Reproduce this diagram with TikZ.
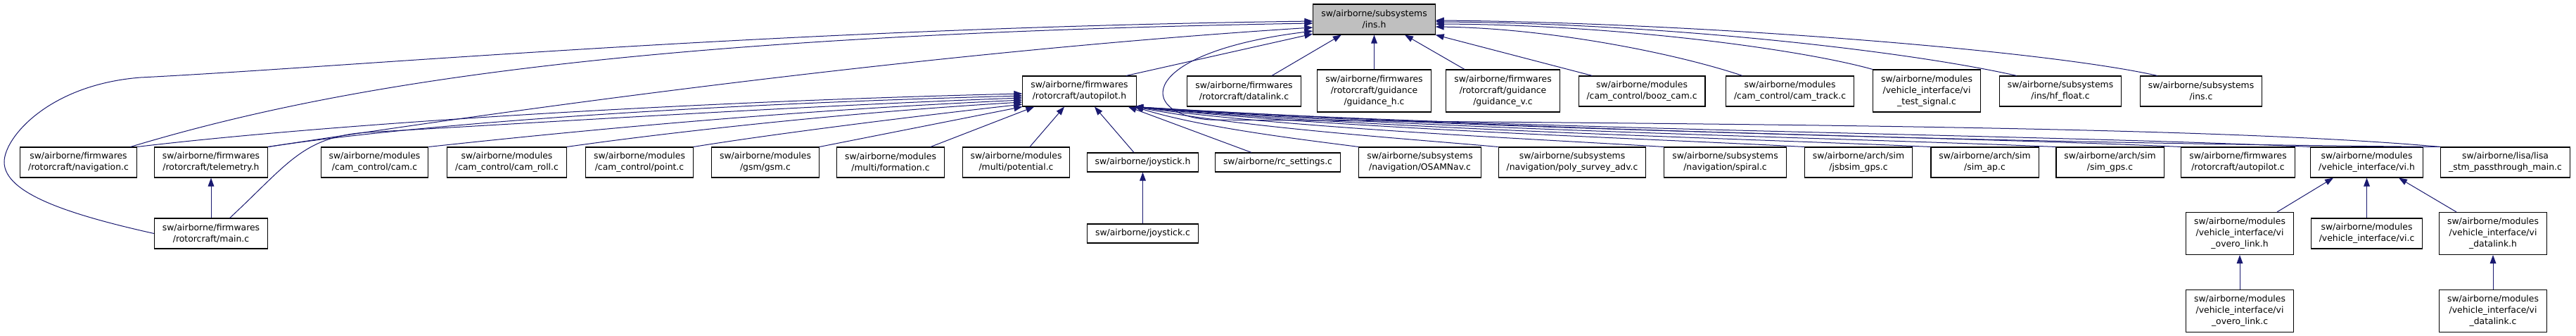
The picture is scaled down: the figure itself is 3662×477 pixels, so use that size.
\documentclass[tikz,border=0pt]{standalone}
\usepackage{fontspec}
\setmainfont{DejaVu Sans}
\usetikzlibrary{arrows.meta}
\definecolor{incl}{HTML}{191970}
\definecolor{focus}{HTML}{BFBFBF}

\begin{document}
\begin{tikzpicture}[x=0.75pt,y=-0.75pt,>={Triangle[length=9pt,width=6.5pt]},
 file/.style={draw=black,fill=white,line width=0.8pt,align=center,inner xsep=8.6pt,inner ysep=0pt,font=\fontsize{9.3pt}{12pt}\selectfont},
 oneline/.style={minimum height=20.25pt},
 twoline/.style={minimum height=32.25pt},
 threeline/.style={minimum height=45pt},
 dep/.style={->,draw=incl,line width=0.75pt}]
\useasboundingbox (0,0) rectangle (3662,477);
% the header everything points at
\node[file,twoline,fill=focus] (insh) at (1953.5,27.5) {sw/airborne/subsystems\\/ins.h};
% first row
\node[file,twoline] (autoh) at (1534.5,129.5) {sw/airborne/firmwares\\/rotorcraft/autopilot.h};
\node[file,twoline] (dlink) at (1768.5,129.5) {sw/airborne/firmwares\\/rotorcraft/datalink.c};
\node[file,threeline] (guidh) at (1953.5,129) {sw/airborne/firmwares\\/rotorcraft/guidance\\/guidance\_h.c};
\node[file,threeline] (guidv) at (2136.5,129) {sw/airborne/firmwares\\/rotorcraft/guidance\\/guidance\_v.c};
\node[file,twoline] (boozcam) at (2334,129.5) {sw/airborne/modules\\/cam\_control/booz\_cam.c};
\node[file,twoline] (camtrack) at (2544.5,129.5) {sw/airborne/modules\\/cam\_control/cam\_track.c};
\node[file,threeline] (vitest) at (2739,129) {sw/airborne/modules\\/vehicle\_interface/vi\\\_test\_signal.c};
\node[file,twoline] (hffloat) at (2929,129.5) {sw/airborne/subsystems\\/ins/hf\_float.c};
\node[file,twoline] (insc) at (3129,129.5) {sw/airborne/subsystems\\/ins.c};
% second row
\node[file,twoline] (nav) at (111.5,230.5) {sw/airborne/firmwares\\/rotorcraft/navigation.c};
\node[file,twoline] (telem) at (300,230.5) {sw/airborne/firmwares\\/rotorcraft/telemetry.h};
\node[file,twoline] (cam) at (532.5,230.5) {sw/airborne/modules\\/cam\_control/cam.c};
\node[file,twoline] (camroll) at (720.5,230.5) {sw/airborne/modules\\/cam\_control/cam\_roll.c};
\node[file,twoline] (point) at (909,230.5) {sw/airborne/modules\\/cam\_control/point.c};
\node[file,twoline] (gsm) at (1088,230.5) {sw/airborne/modules\\/gsm/gsm.c};
\node[file,twoline] (formation) at (1266,230.5) {sw/airborne/modules\\/multi/formation.c};
\node[file,twoline] (potential) at (1444.5,230.5) {sw/airborne/modules\\/multi/potential.c};
\node[file,oneline] (joyh) at (1624.5,230.5) {sw/airborne/joystick.h};
\node[file,oneline] (rcset) at (1816.5,230.5) {sw/airborne/rc\_settings.c};
\node[file,twoline] (osam) at (2018.5,230.5) {sw/airborne/subsystems\\/navigation/OSAMNav.c};
\node[file,twoline] (poly) at (2235,230.5) {sw/airborne/subsystems\\/navigation/poly\_survey\_adv.c};
\node[file,twoline] (spiral) at (2452.5,230.5) {sw/airborne/subsystems\\/navigation/spiral.c};
\node[file,twoline] (jsbsim) at (2642,230.5) {sw/airborne/arch/sim\\/jsbsim\_gps.c};
\node[file,twoline] (simap) at (2821.5,230.5) {sw/airborne/arch/sim\\/sim\_ap.c};
\node[file,twoline] (simgps) at (2999.5,230.5) {sw/airborne/arch/sim\\/sim\_gps.c};
\node[file,twoline] (autoc) at (3181.5,230.5) {sw/airborne/firmwares\\/rotorcraft/autopilot.c};
\node[file,twoline] (vih) at (3364.5,230.5) {sw/airborne/modules\\/vehicle\_interface/vi.h};
\node[file,twoline] (lisa) at (3561.5,230.5) {sw/airborne/lisa/lisa\\\_stm\_passthrough\_main.c};
% third and fourth rows
\node[file,twoline] (mainc) at (300,331.5) {sw/airborne/firmwares\\/rotorcraft/main.c};
\node[file,oneline] (joyc) at (1624.5,331.5) {sw/airborne/joystick.c};
\node[file,threeline] (overoh) at (3184,331.5) {sw/airborne/modules\\/vehicle\_interface/vi\\\_overo\_link.h};
\node[file,twoline] (vic) at (3364.5,331.5) {sw/airborne/modules\\/vehicle\_interface/vi.c};
\node[file,threeline] (vidlh) at (3544,331.5) {sw/airborne/modules\\/vehicle\_interface/vi\\\_datalink.h};
\node[file,threeline] (overoc) at (3184,441.5) {sw/airborne/modules\\/vehicle\_interface/vi\\\_overo\_link.c};
\node[file,threeline] (vidlc) at (3544,441.5) {sw/airborne/modules\\/vehicle\_interface/vi\\\_datalink.c};

% straight ones
\draw[dep] (guidh) -- (insh);
\draw[dep] (mainc) -- (telem);
\draw[dep] (joyc) -- (joyh);
\draw[dep] (vic) -- (vih);
\draw[dep] (overoc) -- (overoh);
\draw[dep] (vidlc) -- (vidlh);
\draw[dep] ([xshift=39.75pt]overoh.north) -- ([xshift=-35.6pt]vih.south);
\draw[dep] ([xshift=-39pt]vidlh.north) -- ([xshift=34.1pt]vih.south);

% into ins.h
\draw[dep] ([xshift=29.6pt]dlink.north) -- ([xshift=-35pt]insh.south);
\draw[dep] ([xshift=-40.9pt]guidv.north) -- ([xshift=32.6pt]insh.south);
\draw[dep] ([xshift=15pt]boozcam.north west) -- (insh.south east);
\draw[dep] ([xshift=18pt]camtrack.north west) .. controls (2380,75) and (2200,40) .. ([yshift=-7.9pt]insh.east);
\draw[dep] (vitest.north west) .. controls (2560,70) and (2300,35) .. ([yshift=-4.9pt]insh.east);
\draw[dep] ([xshift=18.75pt]hffloat.north west) .. controls (2700,70) and (2350,33) .. ([yshift=-2.6pt]insh.east);
\draw[dep] ([xshift=18.75pt]insc.north west) .. controls (2900,70) and (2400,32) .. ([yshift=-1.1pt]insh.east);
\draw[dep] ([xshift=-11pt]autoh.north east) -- ([yshift=-15.4pt]insh.west);
\draw[dep] ([xshift=-7pt]nav.north east) .. controls (480,120) and (900,50) .. ([yshift=-4.1pt]insh.west);
\draw[dep] (telem.north east) .. controls (700,160) and (1300,75) .. ([yshift=-8.6pt]insh.west);
\draw[dep] (mainc.west) .. controls (100,305) and (6,275) .. (6,230)
 .. controls (6,195) and (70,120) .. (200,110)
 .. controls (500,95) and (1100,40) .. ([yshift=-1.9pt]insh.west);
\draw[dep] (lisa.north west) .. controls (3150,180) and (2500,176) .. (1720,170)
 .. controls (1615,163) and (1615,75) .. ([yshift=-12.4pt]insh.west);

% into autopilot.h from the left
\draw[dep] (nav.north east) .. controls (450,178) and (950,145) .. ([yshift=-2.6pt]autoh.west);
\draw[dep] (telem.north east) .. controls (600,175) and (1000,148) .. ([yshift=-4.9pt]autoh.west);
\draw[dep] ([xshift=20pt]mainc.north) .. controls (410,232) and (430,195) .. (520,188)
 .. controls (800,172) and (1150,150) .. ([yshift=-7.1pt]autoh.west);
\draw[dep] (cam.north east) .. controls (800,188) and (1100,158) .. ([yshift=-9.4pt]autoh.west);
\draw[dep] (camroll.north east) .. controls (950,188) and (1200,160) .. ([yshift=-11.6pt]autoh.west);
\draw[dep] (point.north east) .. controls (1100,190) and (1300,165) .. ([yshift=-13.9pt]autoh.west);
\draw[dep] (gsm.north east) -- (autoh.south west);
\draw[dep] ([xshift=-15pt]formation.north east) -- ([xshift=12.75pt]autoh.south west);
\draw[dep] ([xshift=14.6pt]potential.north) -- ([xshift=-16.1pt]autoh.south);
\draw[dep] ([xshift=-9.4pt]joyh.north) -- ([xshift=16.1pt]autoh.south);
\draw[dep] ([xshift=-28.1pt]rcset.north) -- ([xshift=-9pt]autoh.south east);

% into autopilot.h from the right
\draw[dep] (osam.north west) .. controls (1850,198) and (1707,181) .. ([xshift=-2pt]autoh.south east);
\draw[dep] (poly.north west) .. controls (2000,197) and (1767,181) .. ([xshift=-2pt]autoh.south east);
\draw[dep] (spiral.north west) .. controls (2176,197) and (1838,182) .. ([xshift=-2pt]autoh.south east);
\draw[dep] (jsbsim.north west) .. controls (2326,196) and (1898,182) .. ([xshift=-2pt]autoh.south east);
\draw[dep] (simap.north west) .. controls (2461,196) and (1952,183) .. ([xshift=-2pt]autoh.south east);
\draw[dep] (simgps.north west) .. controls (2594,195) and (2005,183) .. ([xshift=-2pt]autoh.south east);
\draw[dep] (autoc.north west) .. controls (2729,192) and (2059,184) .. ([xshift=-2pt]autoh.south east);
\draw[dep] (vih.north west) .. controls (2867,190) and (2114,184) .. ([xshift=-2pt]autoh.south east);
\draw[dep] (lisa.north west) .. controls (3000,205) and (2170,186) .. ([xshift=-2pt]autoh.south east);
\end{tikzpicture}
\end{document}
